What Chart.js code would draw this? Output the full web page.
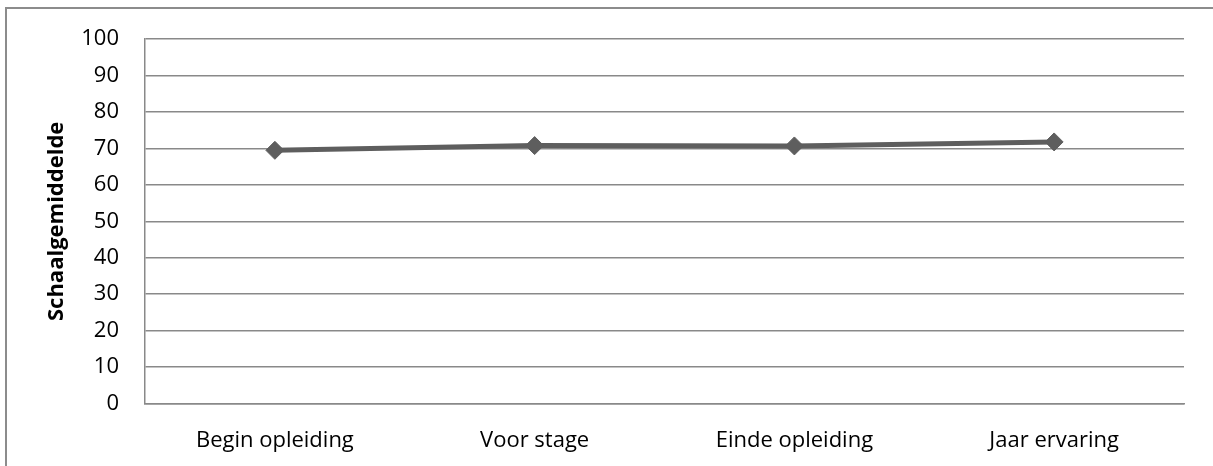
<!DOCTYPE html>
<html lang="nl">
<head>
  <meta charset="UTF-8">
  <title>Schaalgemiddelde</title>
  <script src="https://cdn.jsdelivr.net/npm/chart.js"></script>
  <style>
    html, body { margin: 0; padding: 0; background: #fff; overflow: hidden; }
    #kader {
      position: absolute; left: 5px; top: 7px;
      width: 2000px; height: 2000px;
      border: 2px solid #8c8c8c;
    }
    #grafiek { position: absolute; left: 0; top: 0; }
  </style>
</head>
<body>
  <div id="kader"></div>
  <canvas id="grafiek" width="1213" height="466"></canvas>

<script>
  // data
  var fases = ['Begin opleiding', 'Voor stage', 'Einde opleiding', 'Jaar ervaring'];
  var gemiddelden = [69.5, 70.8, 70.7, 71.8];

  var lijnKleur = '#5e5e5e';
  var rasterKleur = '#898989';

  const config = {
    type: 'line',
    data: {
      labels: fases,
      datasets: [{
        label: 'Schaalgemiddelde',
        data: gemiddelden,
        borderColor: lijnKleur,
        backgroundColor: lijnKleur,
        borderWidth: 5,
        pointStyle: 'rectRot',
        pointRadius: 9,
        pointBackgroundColor: lijnKleur,
        pointBorderColor: lijnKleur,
        pointBorderWidth: 1,
        tension: 0,
        fill: false
      }]
    },
    options: {
      responsive: false,
      animation: false,
      layout: { padding: { top: 37, right: 29, left: 0, bottom: 0 } },
      plugins: {
        legend: { display: false },
        tooltip: { enabled: false }
      },
      scales: {
        x: {
          offset: true,
          grid: { display: false, drawTicks: false, offset: true },
          border: { display: true, color: rasterKleur, width: 1.5 },
          ticks: {
            color: '#000',
            padding: 24,
            maxRotation: 0,
            font: { family: 'Open Sans', size: 22 }
          },
          afterFit: function (scale) { scale.height = 62.5; }
        },
        y: {
          min: 0,
          max: 100,
          ticks: {
            stepSize: 10,
            color: '#000',
            padding: 26,
            font: { family: 'Open Sans', size: 22 }
          },
          grid: { color: rasterKleur, lineWidth: 1.5, drawTicks: false },
          border: { display: true, color: rasterKleur, width: 1.5 },
          title: {
            display: true,
            text: 'Schaalgemiddelde',
            color: '#000',
            font: { family: 'Open Sans', size: 22, weight: 'bold' },
            padding: { top: 44, bottom: 0 }
          },
          afterFit: function (scale) { scale.width = 145; }
        }
      }
    }
  };

  let grafiek = new Chart(document.getElementById('grafiek'), config);
</script>
</body>
</html>
